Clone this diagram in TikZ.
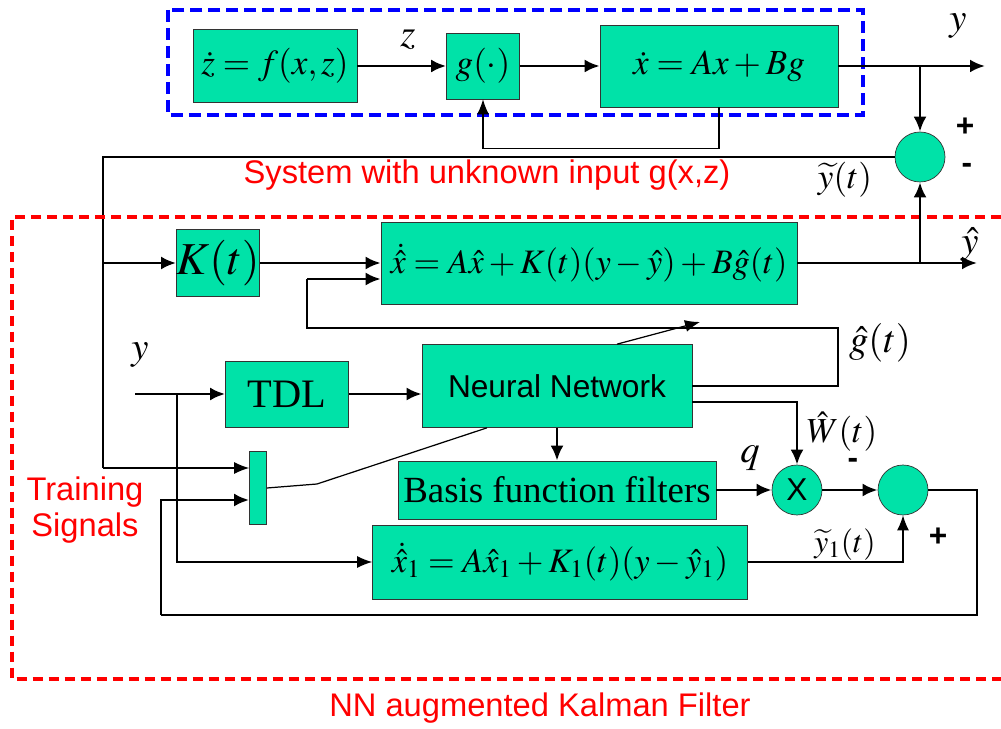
\documentclass[tikz,border=0pt]{standalone}
\usepackage{amsmath}
\usepackage{mathptmx}
\usepackage[no-math]{fontspec}
\setmainfont{Liberation Serif}
\setsansfont{Liberation Sans}
\usetikzlibrary{arrows.meta}
\definecolor{blockgreen}{RGB}{0,226,168}
\definecolor{sysblue}{RGB}{0,0,255}
\definecolor{kfred}{RGB}{255,0,0}
\begin{document}
\begin{tikzpicture}
		[x=0.02cm,y=-0.02cm,
		block/.style={
			rectangle,
			draw=black!80,
			fill=blockgreen,
			inner sep=0pt
		},
		sumnode/.style={circle,draw=black!80,fill=blockgreen,minimum size=1cm,inner sep=0pt},
		arr/.style={line width=1.6pt,-{Latex[length=3mm,width=2.6mm]}},
		thinarr/.style={line width=0.7pt,-{Latex[length=3mm,width=2.4mm]}},
		thinline/.style={line width=0.7pt},
		eqtext/.style={font=\fontsize{20}{22}\selectfont},
		mathlab/.style={font=\fontsize{22}{24}\selectfont},
		signtext/.style={font=\sffamily\bfseries\fontsize{18}{20}\selectfont},
		redtext/.style={text=kfred,font=\sffamily\fontsize{18.6}{21}\selectfont,align=center}]
		\useasboundingbox (0,0) rectangle (1001,729);
		% system with unknown input
		\draw[sysblue,line width=2.2pt,dash pattern=on 0.24cm off 0.12cm] (168,10) rectangle (863,115);
		\node[block,minimum width=3.28cm,minimum height=1.46cm,eqtext] (zdot) at (275,66) {$\dot z = f(x,z)$};
		\node[block,minimum width=1.46cm,minimum height=1.32cm,eqtext] (gf) at (483,66) {$g(\cdot)$};
		\node[block,minimum width=4.76cm,minimum height=1.64cm,eqtext] (xdot) at (719,66) {$\dot x = Ax + Bg$};
		\node[mathlab] (zlab) at (408,40) {$z$};
		\node[mathlab] (ylab) at (958,26) {$y$};
		\coordinate (yend) at (985,66);
		\coordinate (ybr) at (920,66);
		\draw[arr] (zdot) -- (gf);
		\draw[arr] (gf) -- (xdot);
		\draw[arr] (xdot.east) -- (yend);
		\draw[thinarr] (xdot.south) -- ++(0,41) -| (gf.south);
		\node[sumnode] (sumy) at (920,157) {};
		\draw[arr] (ybr) -- (sumy.north);
		\node[signtext] (plusa) at (965,127) {+};
		\node[signtext] (minusa) at (967,168) {-};
		\node[font=\fontsize{20}{22}\selectfont] (ytlab) at (845,180) {$\widetilde y(t)$};
		\node[redtext] (syslab) at (487,175) {System with unknown input g(x,z)};
		% training signal line
		\coordinate (trn) at (103,157);
		\coordinate (trnb) at (103,468);
		\draw[thinline] (sumy.west) -- (trn) -- (trnb);
		% kalman filter
		\draw[kfred,line width=2.2pt,dash pattern=on 0.2cm off 0.12cm] (1001,217) -- (12,217) -- (12,679) -- (1001,679);
		\node[block,minimum width=1.46cm,minimum height=1.34cm,font=\fontsize{26}{28}\selectfont] (Kt) at (218,263) {$K(t)$};
		\node[block,minimum width=8.32cm,minimum height=1.64cm,font=\fontsize{19.5}{21}\selectfont] (xhat) at (589,263)
			{$\dot{\hat x} = A\hat x + K(t)(y-\hat y) + B\hat g(t)$};
		\draw[arr] (trn |- Kt) -- (Kt.west);
		\draw[arr] (Kt) -- (xhat);
		\coordinate (yhend) at (977,263);
		\coordinate (yhbr) at (920,263);
		\draw[arr] (xhat.east) -- (yhend);
		\draw[arr] (yhbr) -- (sumy.south);
		\node[mathlab] (yhlab) at (970,245) {$\hat y$};
		\node[block,minimum width=2.46cm,minimum height=1.32cm,font=\fontsize{23}{25}\selectfont] (tdl) at (287,394) {TDL};
		\node[block,minimum width=5.4cm,minimum height=1.66cm,font=\sffamily\fontsize{18}{20}\selectfont] (nn) at (557,386) {Neural Network};
		\node[block,minimum width=6.36cm,minimum height=1.16cm,font=\fontsize{21}{23}\selectfont] (basis) at (557,490) {Basis function filters};
		\node[block,minimum width=7.5cm,minimum height=1.48cm,font=\fontsize{19.5}{21}\selectfont] (xone) at (560,562)
			{$\dot{\hat x}_1 = A\hat x_1 + K_1(t)(y-\hat y_1)$};
		\node[block,minimum width=0.34cm,minimum height=1.46cm] (bar) at (258,488) {};
		\node[sumnode,font=\sffamily\fontsize{18}{20}\selectfont] (mult) at (797,490) {X};
		\node[sumnode] (sumw) at (903,490) {};
		% g hat loop
		\coordinate (gbend) at (838,328);
		\coordinate (gin) at (307,279);
		\draw[thinline] (nn.east) -| (gbend) -| (gin);
		\draw[arr] (gin) -- (gin -| xhat.west);
		\node[mathlab] (ghlab) at (880,343) {$\hat g(t)$};
		\coordinate (adapt) at (700,322);
		\draw[thinarr] ([xshift=1.2cm]nn.north) -- (adapt);
		\draw[thinline] (bar.east) -- (317,484) -- ([xshift=-1.4cm]nn.south);
		% inputs
		\coordinate (yin) at (135,394);
		\coordinate (ysplit) at (177,394);
		\node[mathlab] (yinlab) at (140,355) {$y$};
		\draw[arr] (yin) -- (tdl.west);
		\draw[arr] (tdl.east) -- (tdl.east -| nn.west);
		\draw[thinarr] (ysplit) |- (xone.west);
		\draw[arr] (nn) -- (basis);
		\draw[arr] ([yshift=-0.32cm]nn.east) -| (mult.north);
		\node[font=\fontsize{20}{22}\selectfont] (wlab) at (842,432) {$\hat W(t)$};
		\node[signtext] (minusb) at (853,463) {-};
		\draw[arr] (basis) -- (mult);
		\node[mathlab] (qlab) at (750,458) {$q$};
		\draw[arr] (mult) -- (sumw);
		\draw[thinarr] (xone.east) -| (sumw.south);
		\node[font=\fontsize{18}{20}\selectfont] (yt1lab) at (845,545) {$\widetilde y_1(t)$};
		\node[signtext] (plusb) at (938,537) {+};
		% error back to training
		\coordinate (fbR) at (977,615);
		\coordinate (fbL) at (161,615);
		\draw[thinline] (sumw.east) -| (fbR) -- (fbL);
		\draw[arr] (fbL) |- ([yshift=-0.24cm]bar.west);
		\draw[thinarr] (trnb) -- (trnb -| bar.west);
		\node[redtext] (trainlab) at (85,510) {Training\\Signals};
		\node[redtext] (kflab) at (540,708) {NN augmented Kalman Filter};
\end{tikzpicture}
\end{document}
